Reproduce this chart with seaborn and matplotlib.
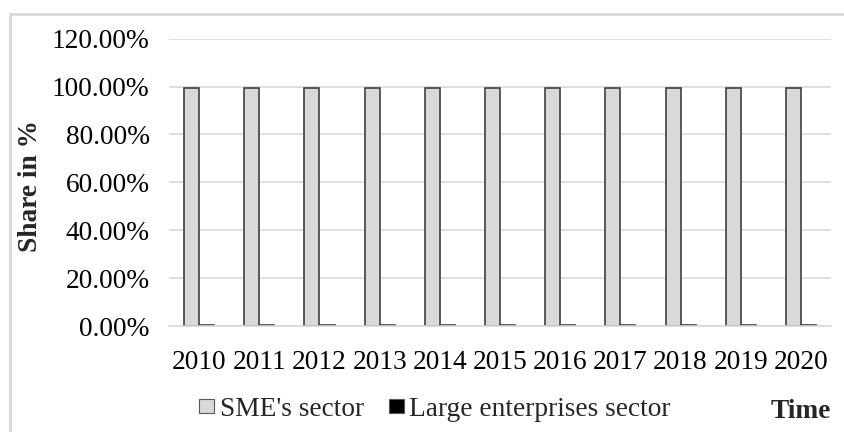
import matplotlib
matplotlib.use("Agg")
import matplotlib.pyplot as plt
import matplotlib.patches as mpatches
import seaborn as sns
import pandas as pd

years = ["2010", "2011", "2012", "2013", "2014", "2015",
         "2016", "2017", "2018", "2019", "2020"]
sme_share = [99.6, 99.6, 99.6, 99.6, 99.6, 99.6, 99.6, 99.6, 99.6, 99.6, 99.6]
large_share = [0.4, 0.4, 0.4, 0.4, 0.4, 0.4, 0.4, 0.4, 0.4, 0.4, 0.4]
series_names = ["SME's sector", "Large enterprises sector"]
series_colors = ["#d9d9d9", "#000000"]

df = pd.DataFrame({
    "Year": years * 2,
    "Sector": [series_names[0]] * len(years) + [series_names[1]] * len(years),
    "Share": [v / 100 for v in sme_share] + [v / 100 for v in large_share],
})

sns.set_theme(style="white")
plt.rcParams["font.family"] = ["Liberation Serif", "DejaVu Serif"]
FS = 19.7

fig = plt.figure(figsize=(8.44, 4.32), dpi=100)
ax = fig.add_axes([169 / 844, 1 - 326 / 432, (831 - 169) / 844, (326 - 38.7) / 432])

sns.barplot(data=df, x="Year", y="Share", hue="Sector", order=years,
            hue_order=series_names, palette=series_colors, width=0.5,
            edgecolor="#404040", linewidth=1.2, saturation=1, ax=ax, legend=False)

ax.set_ylim(0, 1.2)
ax.set_yticks([0, 0.2, 0.4, 0.6, 0.8, 1.0, 1.2])
ax.set_yticklabels([f"{t * 100:.2f}%" for t in ax.get_yticks()])
ax.yaxis.grid(True, color="#d9d9d9", linewidth=1.2)
ax.set_axisbelow(True)
for side in ["top", "right", "left"]:
    ax.spines[side].set_visible(False)
ax.spines["bottom"].set_color("#d9d9d9")
ax.spines["bottom"].set_linewidth(1.2)
ax.tick_params(axis="y", length=0, pad=14, labelsize=FS, colors="#000000")
ax.tick_params(axis="x", length=0, pad=17, labelsize=FS, colors="#000000")
ax.set_xlabel("")
ax.set_ylabel("")
ax.set_xlim(-0.5, len(years) - 0.5)

fig.text(31 / 844, 1 - 186 / 432, "Share in %", rotation=90, ha="center",
         va="center", fontsize=FS, fontweight="bold")
fig.text(831 / 844, 1 - 412 / 432, "Time", ha="right", va="center",
         fontsize=FS, fontweight="bold")

handles = [mpatches.Patch(facecolor=c, edgecolor="#595959", linewidth=0.8)
           for c in series_colors]
fig.legend(handles, series_names, loc="center", bbox_to_anchor=(435 / 844, 1 - 409 / 432),
           ncol=2, frameon=False, fontsize=FS, handlelength=0.55, handleheight=0.42,
           handletextpad=0.2, columnspacing=0.9, borderpad=0, borderaxespad=0)

# light outer frame
frame = mpatches.Rectangle((10 / 844, -0.1), 1.2, 1 - 14 / 432 + 0.1,
                           transform=fig.transFigure, fill=False,
                           edgecolor="#d9d9d9", linewidth=2)
fig.add_artist(frame)

fig.savefig("out.png", dpi=100)
